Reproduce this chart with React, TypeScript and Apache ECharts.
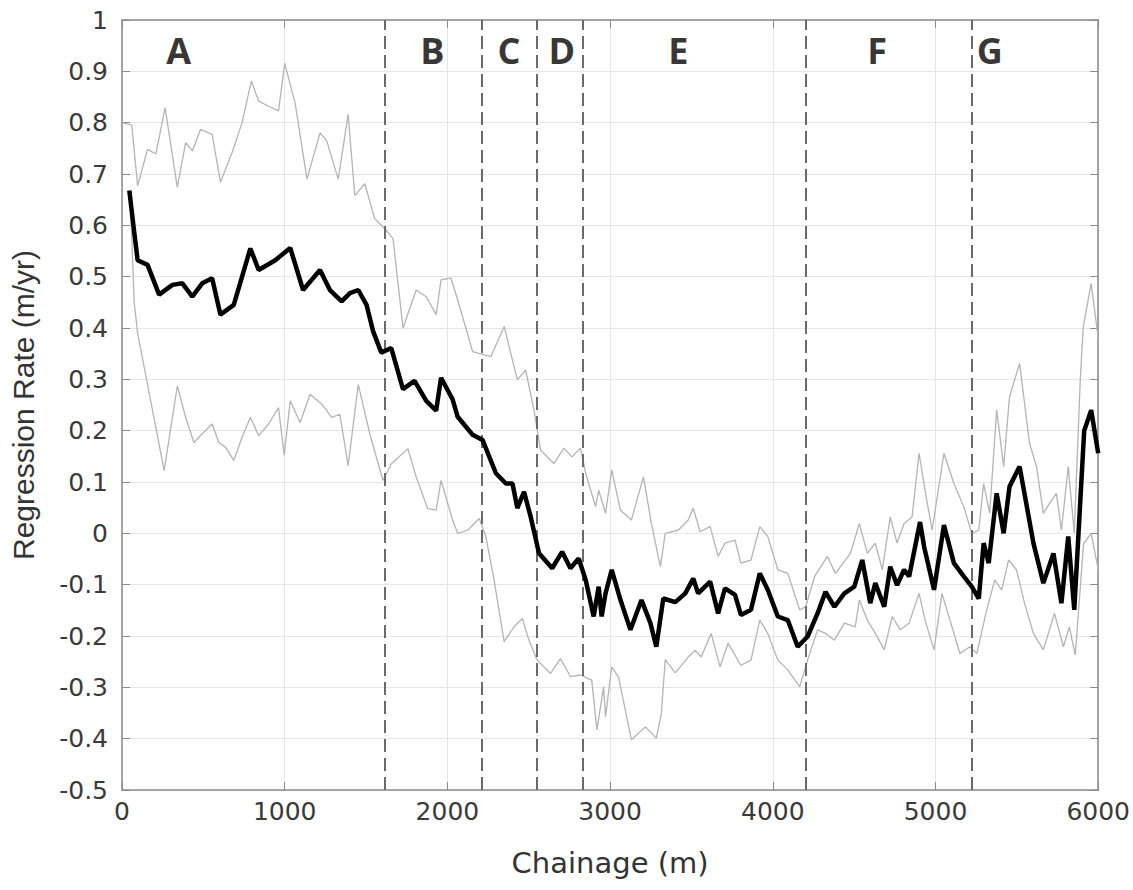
import React, { useEffect, useRef } from "react";
import * as echarts from "echarts";

// Mean regression rate (m/yr) along chainage (m)
const meanRate: [number, number][] = [
  [45, 0.668], [70, 0.6], [96, 0.532], [157, 0.523], [228, 0.465], [310, 0.484], [371, 0.487],
  [432, 0.461], [493, 0.487], [554, 0.497], [605, 0.426], [687, 0.445], [789, 0.555], [840, 0.513],
  [942, 0.532], [1034, 0.556], [1113, 0.474], [1217, 0.513], [1278, 0.474], [1350, 0.452],
  [1401, 0.468], [1452, 0.474], [1503, 0.445], [1543, 0.394], [1594, 0.352], [1655, 0.361],
  [1727, 0.281], [1798, 0.297], [1870, 0.258], [1931, 0.239], [1961, 0.303], [2032, 0.261],
  [2063, 0.227], [2155, 0.192], [2216, 0.182], [2298, 0.117], [2359, 0.097], [2400, 0.097],
  [2430, 0.049], [2471, 0.081], [2512, 0.032], [2563, -0.039], [2644, -0.068], [2705, -0.036],
  [2756, -0.068], [2807, -0.049], [2850, -0.091], [2899, -0.162], [2930, -0.104], [2948, -0.162],
  [2972, -0.117], [3010, -0.071], [3064, -0.13], [3125, -0.188], [3193, -0.13], [3248, -0.175],
  [3284, -0.221], [3327, -0.127], [3401, -0.134], [3462, -0.117], [3511, -0.088], [3541, -0.117],
  [3615, -0.094], [3664, -0.156], [3706, -0.107], [3768, -0.12], [3804, -0.159], [3866, -0.149],
  [3920, -0.078], [3969, -0.11], [4031, -0.162], [4092, -0.169], [4153, -0.221], [4214, -0.201],
  [4275, -0.156], [4324, -0.114], [4379, -0.143], [4440, -0.117], [4501, -0.104], [4550, -0.052],
  [4599, -0.136], [4630, -0.097], [4685, -0.143], [4722, -0.065], [4764, -0.101], [4807, -0.071],
  [4838, -0.084], [4905, 0.022], [4930, -0.026], [4991, -0.11], [5052, 0.016], [5113, -0.058],
  [5174, -0.084], [5223, -0.104], [5266, -0.127], [5296, -0.019], [5327, -0.058], [5376, 0.078],
  [5419, 0.0], [5455, 0.091], [5517, 0.13], [5602, -0.019], [5663, -0.097], [5725, -0.039],
  [5774, -0.136], [5816, -0.006], [5853, -0.149], [5914, 0.2], [5957, 0.24], [6000, 0.156],
];

// Upper envelope
const upperRate: [number, number][] = [
  [0, 0.8], [60, 0.795], [96, 0.677], [157, 0.748], [208, 0.739], [265, 0.829], [340, 0.674],
  [391, 0.761], [432, 0.745], [483, 0.787], [554, 0.777], [605, 0.684], [677, 0.742], [738, 0.8],
  [795, 0.881], [840, 0.842], [901, 0.832], [962, 0.823], [1000, 0.916], [1064, 0.838],
  [1137, 0.69], [1217, 0.78], [1258, 0.765], [1329, 0.69], [1390, 0.816], [1431, 0.658],
  [1492, 0.681], [1553, 0.613], [1625, 0.59], [1666, 0.574], [1727, 0.4], [1808, 0.474],
  [1870, 0.461], [1931, 0.426], [1961, 0.494], [2022, 0.497], [2063, 0.455], [2155, 0.354],
  [2267, 0.344], [2349, 0.403], [2430, 0.299], [2481, 0.318], [2532, 0.24], [2573, 0.162],
  [2654, 0.136], [2716, 0.166], [2766, 0.149], [2818, 0.166], [2850, 0.117], [2911, 0.052],
  [2930, 0.084], [2972, 0.039], [3010, 0.123], [3064, 0.045], [3131, 0.026], [3205, 0.11],
  [3254, 0.019], [3309, -0.065], [3339, 0.0], [3419, 0.006], [3480, 0.026], [3511, 0.049],
  [3553, 0.003], [3615, 0.013], [3664, -0.045], [3706, -0.019], [3768, -0.013], [3804, -0.058],
  [3866, -0.052], [3920, 0.013], [3969, -0.006], [4031, -0.071], [4092, -0.078], [4165, -0.149],
  [4202, -0.143], [4257, -0.084], [4336, -0.045], [4385, -0.078], [4477, -0.039], [4532, 0.019],
  [4581, -0.039], [4630, -0.019], [4673, -0.071], [4722, 0.032], [4764, -0.019], [4807, 0.019],
  [4856, 0.032], [4899, 0.156], [4936, 0.084], [4979, 0.006], [5052, 0.156], [5113, 0.097],
  [5174, 0.052], [5223, 0.0], [5266, 0.006], [5296, 0.097], [5333, 0.039], [5376, 0.24],
  [5419, 0.13], [5455, 0.266], [5517, 0.331], [5578, 0.175], [5621, 0.13], [5663, 0.039],
  [5700, 0.058], [5743, 0.078], [5774, 0.006], [5816, 0.13], [5853, 0.0], [5890, 0.3],
  [5908, 0.402], [5957, 0.487], [6000, 0.38],
];

// Lower envelope
const lowerRate: [number, number][] = [
  [50, 0.66], [75, 0.45], [96, 0.39], [259, 0.122], [340, 0.287], [391, 0.226], [442, 0.177],
  [493, 0.194], [554, 0.213], [595, 0.177], [636, 0.168], [687, 0.142], [738, 0.187], [789, 0.226],
  [840, 0.19], [901, 0.213], [962, 0.245], [997, 0.152], [1034, 0.258], [1095, 0.216],
  [1156, 0.271], [1227, 0.252], [1289, 0.226], [1339, 0.232], [1390, 0.132], [1452, 0.29],
  [1523, 0.194], [1604, 0.103], [1655, 0.135], [1757, 0.165], [1808, 0.11], [1879, 0.048],
  [1931, 0.045], [1961, 0.103], [2032, 0.026], [2063, 0.0], [2124, 0.006], [2196, 0.029],
  [2236, -0.006], [2287, -0.091], [2349, -0.211], [2410, -0.182], [2461, -0.166], [2501, -0.208],
  [2552, -0.247], [2634, -0.273], [2695, -0.244], [2756, -0.279], [2818, -0.276], [2887, -0.286],
  [2919, -0.383], [2960, -0.299], [2972, -0.357], [3010, -0.26], [3052, -0.28], [3131, -0.402],
  [3217, -0.377], [3284, -0.399], [3315, -0.351], [3339, -0.246], [3401, -0.272], [3480, -0.241],
  [3523, -0.228], [3560, -0.241], [3621, -0.195], [3676, -0.26], [3725, -0.214], [3804, -0.257],
  [3866, -0.247], [3920, -0.169], [3969, -0.195], [4031, -0.247], [4092, -0.266], [4165, -0.299],
  [4214, -0.247], [4275, -0.188], [4324, -0.195], [4379, -0.208], [4440, -0.175], [4507, -0.182],
  [4532, -0.13], [4581, -0.169], [4630, -0.195], [4685, -0.227], [4734, -0.162], [4783, -0.188],
  [4838, -0.175], [4899, -0.117], [4936, -0.169], [4991, -0.227], [5040, -0.117], [5089, -0.169],
  [5150, -0.234], [5211, -0.221], [5254, -0.234], [5315, -0.149], [5364, -0.091], [5407, -0.11],
  [5449, -0.052], [5498, -0.071], [5547, -0.136], [5602, -0.195], [5663, -0.227], [5731, -0.156],
  [5786, -0.221], [5823, -0.182], [5859, -0.237], [5910, -0.02], [5957, 0.0], [6000, -0.07],
];

// Zone boundaries (m) and zone labels
const zoneBoundaries = [1615, 2214, 2550, 2832, 4202, 5223];
const zoneNames = ["A", "B", "C", "D", "E", "F", "G"];
const zoneCentres = [349, 1908, 2379, 2703, 3419, 4642, 5333];
const zoneLabelLevel = 0.94;

const xName = "Chainage (m)";
const yName = "Regression Rate (m/yr)";

export default function App() {
  const ref = useRef<HTMLDivElement>(null);

  useEffect(() => {
    if (!ref.current) return;
    const chart = echarts.init(ref.current, null, { renderer: "svg" });
    const tickFont = "DejaVu Sans";
    const axisColor = "#8a8a8a";
    const labelColor = "#3a3a3a";

    const baseX = {
      type: "value" as const,
      min: 0,
      max: 6000,
      interval: 1000,
    };
    const baseY = {
      type: "value" as const,
      min: -0.5,
      max: 1,
      interval: 0.1,
    };

    chart.setOption({
      animation: false,
      backgroundColor: "#ffffff",
      grid: { left: 121, top: 20, right: 31, bottom: 100, containLabel: false },
      xAxis: [
        {
          ...baseX,
          position: "bottom",
          name: xName,
          nameLocation: "middle",
          nameGap: 58,
          nameTextStyle: { fontFamily: tickFont, fontSize: 29, color: "#333333" },
          axisLine: { onZero: false, lineStyle: { color: axisColor, width: 1.5 } },
          axisTick: { inside: true, length: 8, lineStyle: { color: axisColor } },
          axisLabel: {
            margin: 9,
            fontFamily: tickFont,
            fontSize: 25,
            color: labelColor,
            formatter: (v: number) => String(v),
          },
          splitLine: { show: true, lineStyle: { color: "#e6e6e6", width: 1 } },
        },
        {
          ...baseX,
          position: "top",
          axisLine: { onZero: false, lineStyle: { color: axisColor, width: 1.5 } },
          axisTick: { inside: true, length: 8, lineStyle: { color: axisColor } },
          axisLabel: { show: false },
          splitLine: { show: false },
        },
      ],
      yAxis: [
        {
          ...baseY,
          position: "left",
          name: yName,
          nameLocation: "middle",
          nameGap: 84,
          nameTextStyle: { fontFamily: "Liberation Sans", fontSize: 30, color: "#333333" },
          axisLine: { onZero: false, lineStyle: { color: axisColor, width: 1.5 } },
          axisTick: { inside: true, length: 8, lineStyle: { color: axisColor } },
          axisLabel: {
            margin: 14,
            fontFamily: tickFont,
            fontSize: 25,
            color: labelColor,
            formatter: (v: number) => String(Math.round(v * 10) / 10),
          },
          splitLine: { show: true, lineStyle: { color: "#e6e6e6", width: 1 } },
        },
        {
          ...baseY,
          position: "right",
          axisLine: { onZero: false, lineStyle: { color: axisColor, width: 1.5 } },
          axisTick: { inside: true, length: 8, lineStyle: { color: axisColor } },
          axisLabel: { show: false },
          splitLine: { show: false },
        },
      ],
      series: [
        {
          name: "Upper",
          type: "line",
          data: upperRate,
          showSymbol: false,
          lineStyle: { color: "#b4b4b4", width: 1.3 },
          z: 2,
        },
        {
          name: "Lower",
          type: "line",
          data: lowerRate,
          showSymbol: false,
          lineStyle: { color: "#b4b4b4", width: 1.3 },
          z: 2,
        },
        {
          name: "Mean",
          type: "line",
          data: meanRate,
          showSymbol: false,
          lineStyle: { color: "#000000", width: 4.5 },
          z: 4,
          markLine: {
            silent: true,
            symbol: "none",
            label: { show: false },
            lineStyle: { color: "#6a6a6a", width: 2, type: [13, 6] },
            data: zoneBoundaries.map((b) => ({ xAxis: b })),
            z: 3,
          },
        },
        {
          name: "Zones",
          type: "scatter",
          symbolSize: 0,
          data: zoneNames.map((n, i) => ({ name: n, value: [zoneCentres[i], zoneLabelLevel] })),
          label: {
            show: true,
            position: "inside",
            formatter: (p: any) => p.name,
            fontFamily: "Open Sans",
            fontWeight: "bold",
            fontSize: 36,
            color: "#000000",
          },
          z: 5,
        },
      ],
    });

    return () => chart.dispose();
  }, []);

  return (
    <div
      ref={ref}
      style={{ position: "fixed", left: 0, top: 0, width: 1133, height: 890, background: "#fff" }}
    />
  );
}
